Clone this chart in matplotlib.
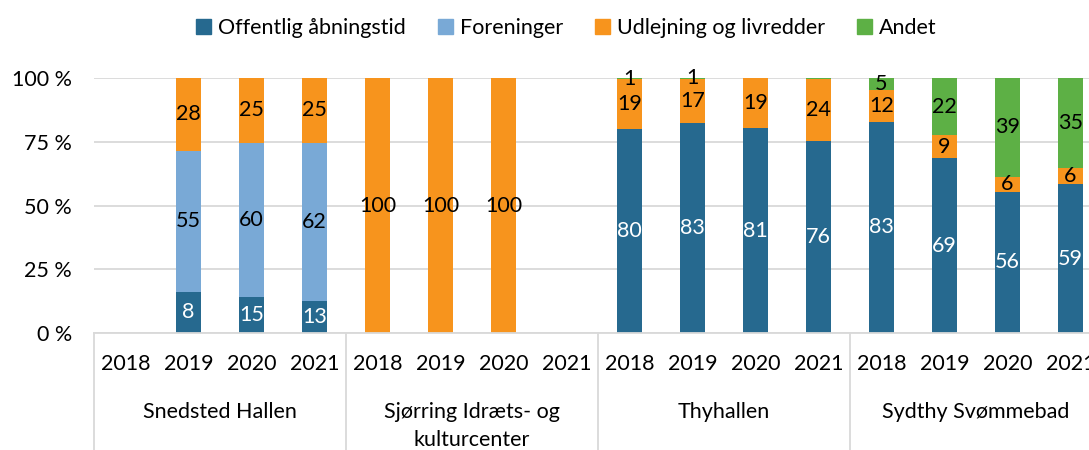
import numpy as np
import matplotlib.pyplot as plt
from matplotlib.patches import Patch
from matplotlib.transforms import blended_transform_factory

plt.rcParams['font.family'] = ['Lato', 'DejaVu Sans']

groups = ['Snedsted Hallen', 'Sjørring Idræts- og\nkulturcenter', 'Thyhallen', 'Sydthy Svømmebad']
years = ['2018', '2019', '2020', '2021']
series = ['Offentlig åbningstid', 'Foreninger', 'Udlejning og livredder', 'Andet']
colors = ['#26698F', '#79A9D6', '#F7941D', '#5DB045']

# bar heights (percent of total)
offentlig   = [0, 16.3, 14.3, 12.8,   0, 0, 0, 0,   79.8, 82.4, 80.4, 75.4,   82.8, 68.7, 55.4, 58.3]
foreninger  = [0, 55.1, 60.3, 61.8,   0, 0, 0, 0,   0, 0, 0, 0,               0, 0, 0, 0]
udlejning   = [0, 28.6, 25.4, 25.4,   100, 100, 100, 0,   19.5, 17.0, 19.6, 24.2,   12.4, 8.7, 5.9, 6.4]
andet       = [0, 0, 0, 0,            0, 0, 0, 0,   0.7, 0.6, 0, 0.4,         4.8, 22.6, 38.7, 35.3]

# printed labels ('' = no label)
offentlig_lbl  = ['', '8', '15', '13', '', '', '', '', '80', '83', '81', '76', '83', '69', '56', '59']
foreninger_lbl = ['', '55', '60', '62', '', '', '', '', '', '', '', '', '', '', '', '']
udlejning_lbl  = ['', '28', '25', '25', '100', '100', '100', '', '19', '17', '19', '24', '12', '9', '6', '6']
andet_lbl      = ['', '', '', '', '', '', '', '', '1', '1', '', '', '5', '22', '39', '35']

values = [offentlig, foreninger, udlejning, andet]
labels = [offentlig_lbl, foreninger_lbl, udlejning_lbl, andet_lbl]
txtcol = ['white', 'black', 'black', 'black']
fs = 15.5

fig = plt.figure(figsize=(10.89, 4.5), dpi=100)
ax = fig.add_axes([94/1089, (450-333.3)/450, 1008/1089, 255.6/450])

x = np.arange(16)
bottom = np.zeros(16)
for vals, lbls, c, tc in zip(values, labels, colors, txtcol):
    vals = np.array(vals, dtype=float)
    ax.bar(x, vals, bottom=bottom, width=0.4, color=c, zorder=2)
    for i in range(16):
        if lbls[i]:
            ax.text(x[i], bottom[i] + vals[i]/2, lbls[i], ha='center', va='center',
                    color=tc, fontsize=fs, zorder=3)
    bottom += vals

ax.set_xlim(-0.5, 15.5)
ax.set_ylim(0, 100)
ax.set_yticks([0, 25, 50, 75, 100])
ax.set_yticklabels(['0 %', '25 %', '50 %', '75 %', '100 %'], fontsize=fs)
ax.tick_params(axis='y', length=0, pad=16)
ax.grid(axis='y', color='#D9D9D9', linewidth=1.3, zorder=0)
for s in ['left', 'right', 'top']:
    ax.spines[s].set_visible(False)
ax.spines['bottom'].set_color('#D9D9D9')
ax.spines['bottom'].set_linewidth(1.3)
ax.set_xticks([])

# category axis: years, then facility names, with separators
tr = blended_transform_factory(ax.transData, ax.transAxes)
for i in range(16):
    ax.text(x[i], -0.12, years[i % 4], transform=tr, ha='center', va='center', fontsize=fs)
for g in range(4):
    ax.text(g*4 + 1.5, -0.27, groups[g], transform=tr, ha='center', va='top',
            fontsize=fs, linespacing=1.45)
for g in range(5):
    ax.plot([g*4 - 0.5, g*4 - 0.5], [0, -0.5], transform=tr, color='#D9D9D9',
            linewidth=1.3, clip_on=False)

handles = [Patch(color=c) for c in colors]
fig.legend(handles, series, loc='center', bbox_to_anchor=(0.52, 0.937), ncol=4,
           frameon=False, fontsize=fs, handlelength=0.7, handleheight=0.7,
           handletextpad=0.3, columnspacing=1.5)

fig.savefig('out.png', dpi=100)
